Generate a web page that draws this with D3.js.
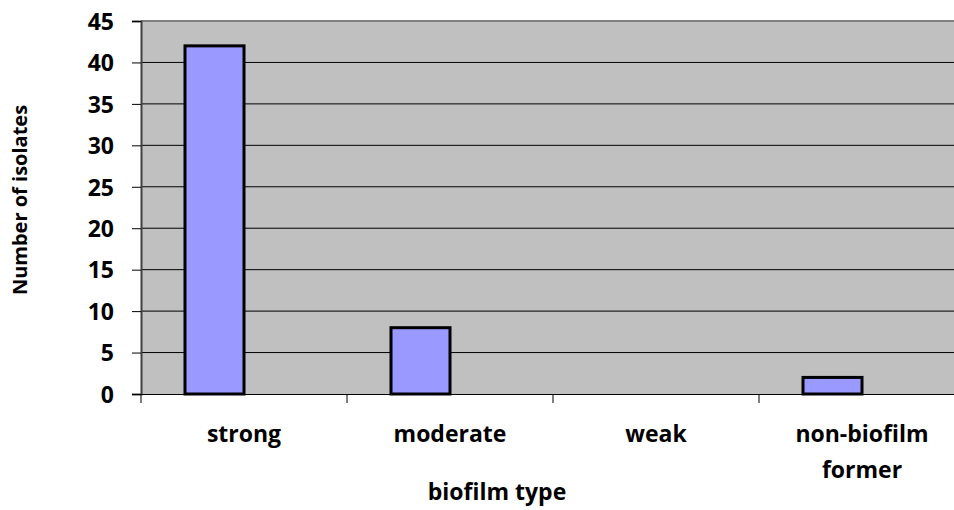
<!DOCTYPE html>
<html lang="en">

<head>
   <meta charset="UTF-8">
   <title>Biofilm type</title>
   <script src="https://d3js.org/d3.v7.min.js"></script>
   <style>
      body {
         margin: 0;
         background: #fff;
      }

      text {
         font-family: 'Open Sans', 'Noto Sans', sans-serif;
         font-weight: bold;
         fill: #000;
      }
   </style>
</head>

<body>
   <script>
      const categories = ['strong', 'moderate', 'weak', 'non-biofilm former'];
      const isolates = [42, 8, 0, 2];
      const yTicks = [0, 5, 10, 15, 20, 25, 30, 35, 40, 45];

      const width = 954;
      const height = 510;
      const margins = { top: 21, right: -11, bottom: 116, left: 141 };
      const innerW = width - margins.left - margins.right;
      const innerH = height - margins.top - margins.bottom;

      const svg = d3.select('body').append('svg').attr('width', width).attr('height', height);
      const g = svg.append('g').attr('transform', `translate(${margins.left}, ${margins.top})`);

      const x = d3.scaleBand().domain(categories).range([0, innerW]);
      const y = d3.scaleLinear().domain([0, 45]).range([innerH, 0]);

      // plot background
      g.append('rect')
         .attr('width', innerW)
         .attr('height', innerH)
         .attr('fill', '#c0c0c0');

      // gridlines
      g.selectAll('.grid')
         .data(yTicks.filter(d => d > 0))
         .enter().append('line')
         .attr('x1', 0).attr('x2', innerW)
         .attr('y1', d => y(d)).attr('y2', d => y(d))
         .attr('stroke', d => d === 45 ? '#808080' : '#000')
         .attr('stroke-width', d => d === 45 ? 2 : 1);

      // y axis
      const yAxis = g.append('g')
         .call(d3.axisLeft(y).tickValues(yTicks).tickSize(9).tickPadding(18));
      yAxis.select('.domain').attr('stroke', '#404040').attr('stroke-width', 2);
      yAxis.selectAll('.tick line').attr('stroke', '#000');
      yAxis.selectAll('.tick text').attr('font-size', 23).attr('font-family', null).attr('dy', '0.36em');

      // x axis
      const xAxis = g.append('g')
         .attr('transform', `translate(0, ${innerH})`)
         .call(d3.axisBottom(x).tickSize(0).tickFormat(''));
      xAxis.select('.domain').attr('stroke', '#000');
      xAxis.selectAll('.sep')
         .data(categories)
         .enter().append('line')
         .attr('x1', d => x(d)).attr('x2', d => x(d))
         .attr('y1', 0).attr('y2', 9)
         .attr('stroke', '#000');

      // category labels (wrapped)
      const labels = g.append('g').selectAll('text')
         .data(categories)
         .enter().append('text')
         .attr('x', d => x(d) + x.bandwidth() / 2)
         .attr('y', innerH + 48)
         .attr('text-anchor', 'middle')
         .attr('font-size', 23);
      labels.each(function (d) {
         const words = d === 'non-biofilm former' ? ['non-biofilm', 'former'] : [d];
         words.forEach((w, i) => {
            d3.select(this).append('tspan')
               .attr('x', x(d) + x.bandwidth() / 2)
               .attr('dy', i === 0 ? 0 : 36)
               .text(w);
         });
      });

      // bars sit left of the category centre
      const barW = 59;
      g.selectAll('.bar')
         .data(isolates)
         .enter().append('rect')
         .filter(d => d > 0)
         .attr('x', d => x(categories[isolates.indexOf(d)]) + x.bandwidth() / 2 - barW)
         .attr('y', d => y(d))
         .attr('width', barW)
         .attr('height', d => innerH - y(d))
         .attr('fill', '#9999ff')
         .attr('stroke', '#000')
         .attr('stroke-width', 3);

      // axis titles
      svg.append('text')
         .attr('x', 497)
         .attr('y', 500)
         .attr('text-anchor', 'middle')
         .attr('font-size', 23)
         .text('biofilm type');

      svg.append('text')
         .attr('transform', 'translate(27, 200) rotate(-90)')
         .attr('text-anchor', 'middle')
         .attr('font-size', 20)
         .text('Number of isolates');
   </script>
</body>

</html>
